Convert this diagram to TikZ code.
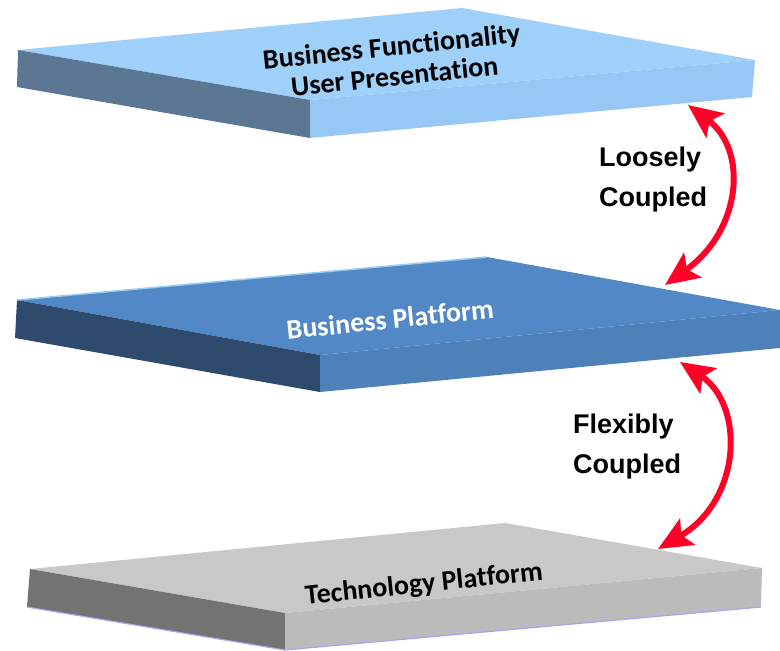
\documentclass[tikz,border=0pt]{standalone}
\usepackage{fontspec}
\setmainfont{Carlito}[Ligatures={NoCommon}]
\newfontfamily\labelfont{Liberation Sans}
\usetikzlibrary{arrows.meta}
\definecolor{topA}{RGB}{158,208,249}
\definecolor{rightA}{RGB}{151,199,245}
\definecolor{leftA}{RGB}{92,119,148}
\definecolor{topB}{RGB}{83,136,198}
\definecolor{rightB}{RGB}{78,128,186}
\definecolor{leftB}{RGB}{46,75,110}
\definecolor{hiB}{RGB}{150,205,245}
\definecolor{topC}{RGB}{200,200,200}
\definecolor{rightC}{RGB}{187,187,187}
\definecolor{leftC}{RGB}{115,115,115}
\definecolor{hiC}{RGB}{165,165,240}
\definecolor{arrred}{RGB}{255,0,38}
\tikzset{
  slabtext/.style={font=\bfseries\fontsize{28}{30}\selectfont, align=center, rotate=6, inner sep=0pt},
  couplelabel/.style={font=\labelfont\bfseries\fontsize{27}{40}\selectfont, align=left, anchor=west, inner sep=0pt, text=black},
  couplearrow/.style={arrred, line width=6pt, {Stealth[length=34pt,width=30pt,inset=7pt]}-{Stealth[length=34pt,width=30pt,inset=7pt]}}
}
\begin{document}
\begin{tikzpicture}[x=1pt,y=-1pt]
\useasboundingbox (0,0) rectangle (780,651);
% ---- top slab ----
\fill[topA] (18,50) -- (462,8) -- (755,60) -- (310,100) -- cycle;
\fill[leftA] (18,50) -- (310,100) -- (310,138) -- (17,87) -- cycle;
\fill[rightA] (310,100) -- (755,60) -- (752,97) -- (310,138) -- cycle;
% ---- middle slab ----
\fill[topB] (17,300) -- (487,257) -- (780,310) -- (320,355) -- cycle;
\fill[leftB] (17,300) -- (320,355) -- (320,392) -- (15,338) -- cycle;
\fill[rightB] (320,355) -- (780,310) -- (780,348) -- (320,392) -- cycle;
\draw[hiB, line width=1.5pt] (17,300) -- (487,257);
% ---- bottom slab ----
\fill[topC] (30,569) -- (505,523) -- (762,568) -- (285,613) -- cycle;
\fill[leftC] (30,569) -- (285,613) -- (285,650) -- (27,607) -- cycle;
\fill[rightC] (285,613) -- (762,568) -- (761,607) -- (285,650) -- cycle;
\draw[hiC, line width=1.2pt] (27,607) -- (285,650) -- (761,607);
% ---- slab texts ----
\node[slabtext, text=black] (ta) at (393,61) {Business Functionality\\User Presentation};
\node[slabtext, text=white] (tb) at (390,319) {Business Platform};
\node[slabtext, text=black] (tc) at (424,585) {Technology Platform};
% ---- arrow end points ----
\coordinate (a1) at (688,105);
\coordinate (a2) at (665,285);
\coordinate (b1) at (680,362);
\coordinate (b2) at (658,549);
\draw[couplearrow] (a1) .. controls (748,150) and (742,230) .. (a2);
\draw[couplearrow] (b1) .. controls (745,405) and (742,500) .. (b2);
% ---- labels ----
\node[couplelabel] (la) at (599,180) {Loosely\\Coupled};
\node[couplelabel] (lb) at (573,447) {Flexibly\\Coupled};
\end{tikzpicture}
\end{document}
